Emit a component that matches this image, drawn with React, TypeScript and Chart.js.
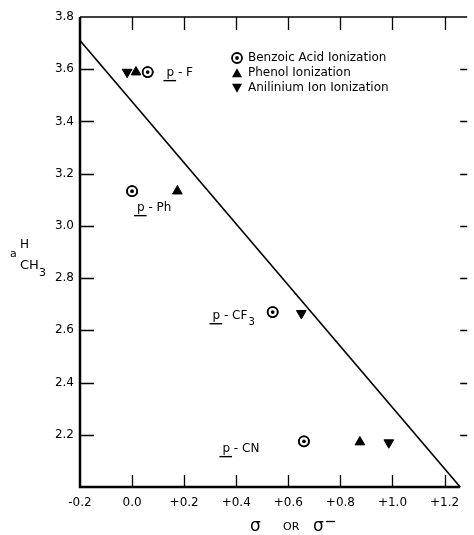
import React, { useEffect, useRef } from 'react';
import { Chart, registerables } from 'chart.js';

Chart.register(...registerables);

// ---- data ----
const xTickValues = [-0.2, 0.0, 0.2, 0.4, 0.6, 0.8, 1.0, 1.2];
const xTickLabels = ['-0.2', '0.0', '+0.2', '+0.4', '+0.6', '+0.8', '+1.0', '+1.2'];
const yTickValues = [2.2, 2.4, 2.6, 2.8, 3.0, 3.2, 3.4, 3.6, 3.8];
const yTickLabels = ['2.2', '2.4', '2.6', '2.8', '3.0', '3.2', '3.4', '3.6', '3.8'];

// Benzoic acid ionization (p-F, p-Ph, p-CF3, p-CN)
const benzoicSigma = [0.06, 0.0, 0.54, 0.66];
const benzoicA = [3.589, 3.133, 2.67, 2.175];
// Phenol ionization (p-F, p-Ph, p-CN)
const phenolSigma = [0.015, 0.174, 0.875];
const phenolA = [3.589, 3.133, 2.172];
// Anilinium ion ionization (p-F, p-CF3, p-CN)
const aniliniumSigma = [-0.019, 0.65, 0.986];
const aniliniumA = [3.589, 2.665, 2.17];
// correlation line
const fitSigma = [-0.2, 1.26];
const fitA = [3.71, 2.0];

// substituent labels
const labelSubst = ['F', 'Ph', 'CF', 'CN'];
const labelSubscript = ['', '', '3', ''];
const labelSigma = [0.132, 0.019, 0.309, 0.347];
const labelA = [3.585, 3.068, 2.654, 2.145];

const legendLabels = ['Benzoic Acid Ionization', 'Phenol Ionization', 'Anilinium Ion Ionization'];

const FONT = '"DejaVu Sans", sans-serif';

function pts(xs: number[], ys: number[]) {
  return xs.map((x, i) => ({ x, y: ys[i] }));
}

function drawCircleDot(ctx: CanvasRenderingContext2D, cx: number, cy: number) {
  ctx.save();
  ctx.strokeStyle = '#000';
  ctx.fillStyle = '#fff';
  ctx.lineWidth = 1.8;
  ctx.beginPath();
  ctx.arc(cx, cy, 5, 0, Math.PI * 2);
  ctx.fill();
  ctx.stroke();
  ctx.fillStyle = '#000';
  ctx.beginPath();
  ctx.arc(cx, cy, 1.9, 0, Math.PI * 2);
  ctx.fill();
  ctx.restore();
}

function drawTri(ctx: CanvasRenderingContext2D, cx: number, cy: number, up: boolean) {
  const w = 10, h = 8.5;
  ctx.beginPath();
  if (up) {
    ctx.moveTo(cx, cy - h / 2 - 0.5);
    ctx.lineTo(cx + w / 2, cy + h / 2);
    ctx.lineTo(cx - w / 2, cy + h / 2);
  } else {
    ctx.moveTo(cx, cy + h / 2 + 0.5);
    ctx.lineTo(cx + w / 2, cy - h / 2);
    ctx.lineTo(cx - w / 2, cy - h / 2);
  }
  ctx.closePath();
  ctx.fill();
}

const framePlugin = {
  id: 'frame',
  afterDatasetsDraw(chart: any) {
    // centre dots of the benzoic-acid circles, placed at the library's point positions
    const ctx = chart.ctx;
    const meta = chart.getDatasetMeta(1);
    meta.data.forEach((el: any) => drawCircleDot(ctx, el.x, el.y));
  },
  afterDraw(chart: any) {
    const { ctx, chartArea: a, scales } = chart;
    const xs = scales.x, ys = scales.y;
    ctx.save();
    ctx.strokeStyle = '#000';
    ctx.fillStyle = '#000';
    // left and bottom axis lines
    ctx.lineWidth = 2.5;
    ctx.beginPath();
    ctx.moveTo(a.left, a.top);
    ctx.lineTo(a.left, a.bottom);
    ctx.lineTo(a.right - 7, a.bottom);
    ctx.stroke();
    // top line
    ctx.lineWidth = 1.5;
    ctx.beginPath();
    ctx.moveTo(a.left, a.top);
    ctx.lineTo(a.right, a.top);
    ctx.stroke();
    // inward ticks
    ctx.lineWidth = 1.3;
    ctx.beginPath();
    for (const v of xTickValues) {
      const px = Math.round(xs.getPixelForValue(v)) + 0.5;
      if (v > -0.2) {
        ctx.moveTo(px, a.bottom);
        ctx.lineTo(px, a.bottom - 12);
        ctx.moveTo(px, a.top);
        ctx.lineTo(px, a.top + 13);
      }
    }
    for (const v of yTickValues) {
      const py = Math.round(ys.getPixelForValue(v)) + 0.5;
      if (v < 3.8) {
        ctx.moveTo(a.left, py);
        ctx.lineTo(a.left + 14, py);
        ctx.moveTo(a.right, py);
        ctx.lineTo(a.right - 7, py);
      }
    }
    ctx.stroke();

    // substituent labels
    ctx.textBaseline = 'middle';
    ctx.textAlign = 'left';
    labelSubst.forEach((s, i) => {
      const lx = xs.getPixelForValue(labelSigma[i]);
      const ly = ys.getPixelForValue(labelA[i]);
      ctx.font = `12px ${FONT}`;
      ctx.fillText('p', lx, ly);
      const pw = ctx.measureText('p').width;
      ctx.lineWidth = 1.4;
      ctx.beginPath();
      ctx.moveTo(lx - 3, ly + 7.5);
      ctx.lineTo(lx + pw + 2, ly + 7.5);
      ctx.stroke();
      const rest = ' - ' + s;
      ctx.fillText(rest, lx + pw, ly);
      if (labelSubscript[i]) {
        const rw = ctx.measureText(rest).width;
        ctx.font = `10px ${FONT}`;
        ctx.fillText(labelSubscript[i], lx + pw + rw + 1, ly + 6);
      }
    });

    // legend
    const lgX = a.left + 157;
    const lgY0 = a.top + 41;
    ctx.font = `12px ${FONT}`;
    legendLabels.forEach((t, i) => {
      const yy = lgY0 + i * 15;
      if (i === 0) drawCircleDot(ctx, lgX, yy);
      else drawTri(ctx, lgX, yy, i === 1);
      ctx.fillStyle = '#000';
      ctx.fillText(t, lgX + 11, yy);
    });

    // y-axis title: a^H_CH3
    ctx.font = `11px ${FONT}`;
    ctx.fillText('a', 10, 254);
    ctx.font = `12px ${FONT}`;
    ctx.fillText('H', 20, 245);
    ctx.font = `13px ${FONT}`;
    ctx.fillText('CH', 20, 266);
    ctx.font = `11px ${FONT}`;
    ctx.fillText('3', 39, 273);

    // x-axis title: σ OR σ⁻
    ctx.font = `17px ${FONT}`;
    ctx.fillText('σ', 250, 527);
    ctx.font = `11px ${FONT}`;
    ctx.fillText('OR', 283, 527);
    ctx.font = `17px ${FONT}`;
    ctx.fillText('σ', 313, 527);
    ctx.lineWidth = 1.3;
    ctx.beginPath();
    ctx.moveTo(326, 521.5);
    ctx.lineTo(335, 521.5);
    ctx.stroke();
    ctx.restore();
  },
};

export default function App() {
  const ref = useRef<HTMLCanvasElement>(null);
  useEffect(() => {
    const chart: any = new Chart(ref.current!, {
      type: 'scatter',
      data: {
        datasets: [
          {
            label: 'fit',
            data: pts(fitSigma, fitA),
            showLine: true,
            borderColor: '#000',
            borderWidth: 1.6,
            pointRadius: 0,
          },
          {
            label: legendLabels[0],
            data: pts(benzoicSigma, benzoicA),
            pointStyle: 'circle',
            pointRadius: 5,
            backgroundColor: '#fff',
            borderColor: '#000',
            borderWidth: 1.8,
          },
          {
            label: legendLabels[1],
            data: pts(phenolSigma, phenolA),
            pointStyle: 'triangle',
            pointRadius: 5.6,
            backgroundColor: '#000',
            borderColor: '#000',
            borderWidth: 1,
          },
          {
            label: legendLabels[2],
            data: pts(aniliniumSigma, aniliniumA),
            pointStyle: 'triangle',
            rotation: 180,
            pointRadius: 5.6,
            backgroundColor: '#000',
            borderColor: '#000',
            borderWidth: 1,
          },
        ],
      },
      options: {
        responsive: false,
        animation: false,
        layout: { padding: { top: 17, right: 0, left: 0, bottom: 0 } },
        plugins: { legend: { display: false }, tooltip: { enabled: false } },
        scales: {
          x: {
            type: 'linear',
            min: -0.2,
            max: 1.287,
            grid: { display: false, drawTicks: false },
            border: { display: false },
            afterBuildTicks: (s: any) => {
              s.ticks = xTickValues.map((v) => ({ value: v }));
            },
            afterFit: (s: any) => {
              s.height = 48;
            },
            ticks: {
              padding: 9,
              color: '#000',
              font: { family: FONT, size: 12 },
              maxRotation: 0,
              autoSkip: false,
              callback: (v: any) => xTickLabels[xTickValues.findIndex((t) => Math.abs(t - v) < 1e-6)] ?? '',
            },
          },
          y: {
            type: 'linear',
            min: 2.0,
            max: 3.8,
            grid: { display: false, drawTicks: false },
            border: { display: false },
            afterBuildTicks: (s: any) => {
              s.ticks = yTickValues.map((v) => ({ value: v }));
            },
            afterFit: (s: any) => {
              s.width = 80;
            },
            ticks: {
              padding: 6,
              color: '#000',
              font: { family: FONT, size: 12 },
              autoSkip: false,
              callback: (v: any) => yTickLabels[yTickValues.findIndex((t) => Math.abs(t - v) < 1e-6)] ?? '',
            },
          },
        },
      },
      plugins: [framePlugin],
    });
    return () => chart.destroy();
  }, []);
  return (
    <div style={{ position: 'absolute', left: 0, top: 0, width: 474, height: 535, background: '#fff' }}>
      <canvas ref={ref} width={474} height={535} style={{ display: 'block' }} />
    </div>
  );
}
